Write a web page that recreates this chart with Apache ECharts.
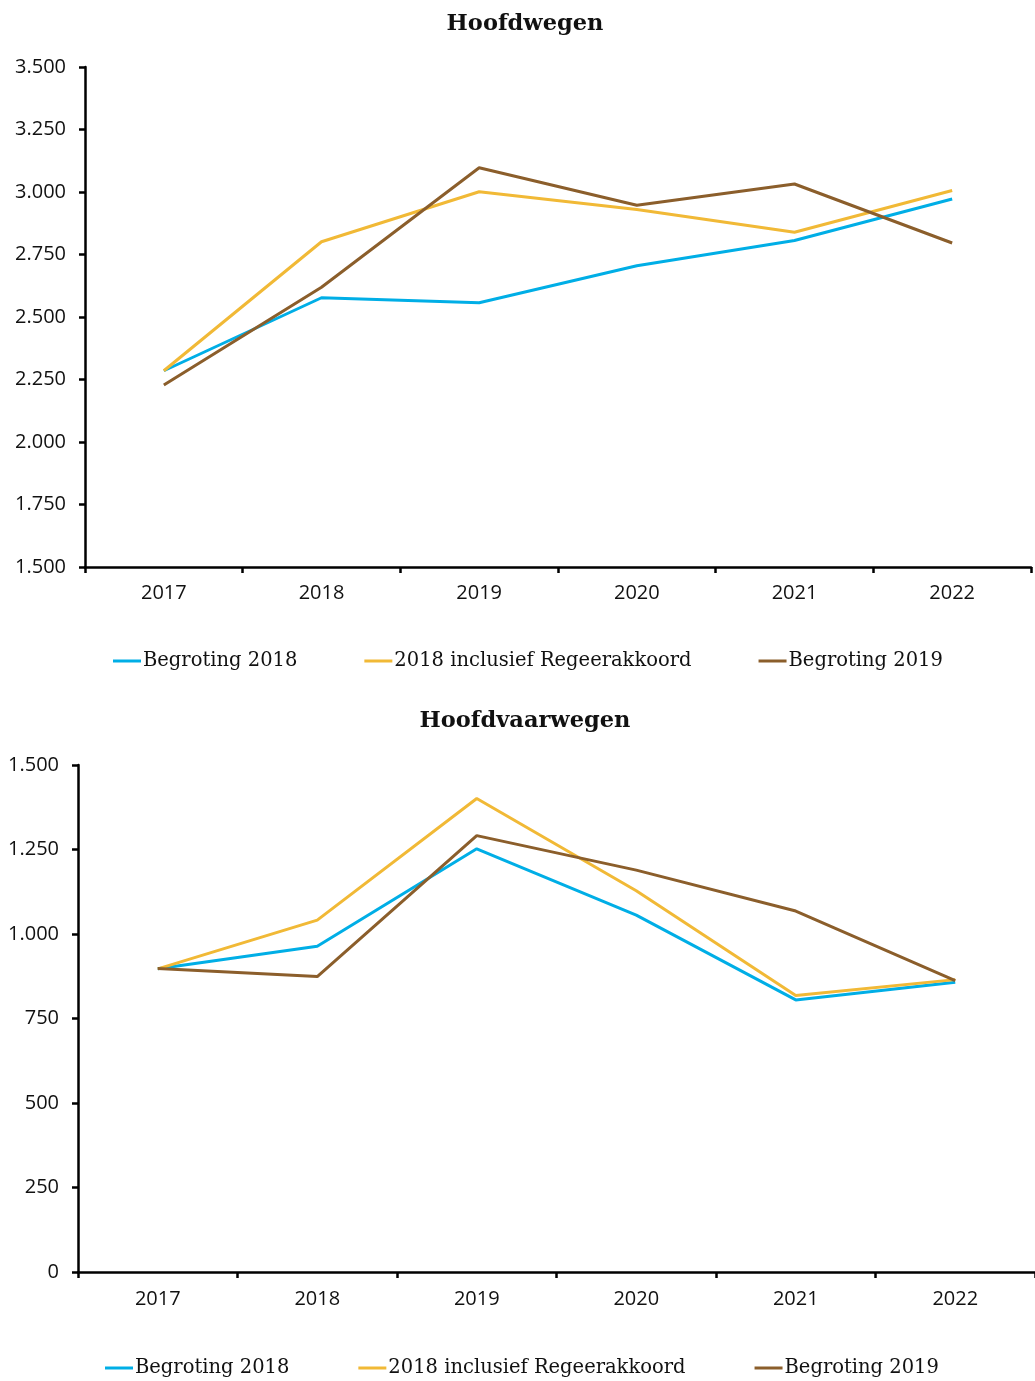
<!DOCTYPE html>
<html>
<head>
<meta charset="utf-8">
<title>Hoofdwegen en Hoofdvaarwegen</title>
<script src="https://cdn.jsdelivr.net/npm/echarts@6/dist/echarts.min.js"></script>
<style>
  html, body { margin: 0; padding: 0; background: #ffffff; }
  #chart { width: 1035px; height: 1381px; }
</style>
</head>
<body>
<div id="chart"></div>
<script>
// Jaren op de x-as
const years = ['2017', '2018', '2019', '2020', '2021', '2022'];

// Reeksnamen
const seriesNames = ['Begroting 2018', '2018 inclusief Regeerakkoord', 'Begroting 2019'];

// Hoofdwegen (mln euro)
const wegenBegroting2018 = [2285, 2577, 2557, 2705, 2806, 2972];
const wegenRegeerakkoord = [2285, 2801, 3001, 2930, 2839, 3006];
const wegenBegroting2019 = [2228, 2619, 3097, 2947, 3032, 2796];

// Hoofdvaarwegen (mln euro)
const vaarBegroting2018 = [897, 964, 1252, 1056, 805, 857];
const vaarRegeerakkoord = [897, 1041, 1401, 1128, 818, 865];
const vaarBegroting2019 = [898, 874, 1291, 1189, 1068, 862];

const colors = ['#00aee6', '#f1b936', '#8b5e2b'];

const serif = 'DejaVu Serif';
const sans = 'Open Sans';

function dutchNumber(v) {
  return String(v).replace(/\B(?=(\d{3})+(?!\d))/g, '.');
}

function makeXAxis(gridIndex, margin) {
  return {
    type: 'category',
    gridIndex: gridIndex,
    data: years,
    boundaryGap: true,
    axisLine: { lineStyle: { color: '#000', width: 2.5 } },
    axisTick: { show: true, length: 6, lineStyle: { color: '#000', width: 2.5 } },
    axisLabel: { color: '#111', fontFamily: sans, fontSize: 20, margin: margin },
    splitLine: { show: false }
  };
}

function makeYAxis(gridIndex, min, max) {
  return {
    type: 'value',
    gridIndex: gridIndex,
    min: min,
    max: max,
    interval: 250,
    axisLine: { show: true, lineStyle: { color: '#000', width: 2.5 } },
    axisTick: { show: true, length: 6, lineStyle: { color: '#000', width: 2.5 } },
    axisLabel: { color: '#111', fontFamily: sans, fontSize: 20, margin: 19, formatter: dutchNumber },
    splitLine: { show: false }
  };
}

function makeLine(name, data, idx, color) {
  return {
    type: 'line',
    name: name,
    data: data,
    xAxisIndex: idx,
    yAxisIndex: idx,
    symbol: 'none',
    smooth: false,
    lineStyle: { color: color, width: 3 },
    itemStyle: { color: color },
    emphasis: { disabled: true }
  };
}

function makeLegend(left, top, gap) {
  return {
    left: left,
    top: top,
    icon: 'rect',
    itemWidth: 28,
    itemHeight: 3,
    itemGap: gap,
    data: seriesNames,
    textStyle: { fontFamily: serif, fontSize: 19.5, color: '#111', padding: [0, 0, 0, -3] }
  };
}

const chart = echarts.init(document.getElementById('chart'), null, { renderer: 'canvas' });

chart.setOption({
  animation: false,
  backgroundColor: '#ffffff',
  title: [
    {
      text: 'Hoofdwegen',
      left: 520, top: 8, textAlign: 'center',
      textStyle: { fontFamily: serif, fontWeight: 'bold', fontSize: 22.5, color: '#111' }
    },
    {
      text: 'Hoofdvaarwegen',
      left: 520, top: 705, textAlign: 'center',
      textStyle: { fontFamily: serif, fontWeight: 'bold', fontSize: 22.5, color: '#111' }
    }
  ],
  legend: [makeLegend(108, 646, 67), makeLegend(100, 1353, 69)],
  grid: [
    { left: 85, top: 67, width: 946, height: 500, containLabel: false },
    { left: 78, top: 765, width: 960, height: 507, containLabel: false }
  ],
  xAxis: [makeXAxis(0, 16), makeXAxis(1, 17)],
  yAxis: [makeYAxis(0, 1500, 3500), makeYAxis(1, 0, 1500)],
  series: [
    makeLine(seriesNames[0], wegenBegroting2018, 0, colors[0]),
    makeLine(seriesNames[1], wegenRegeerakkoord, 0, colors[1]),
    makeLine(seriesNames[2], wegenBegroting2019, 0, colors[2]),
    makeLine(seriesNames[0], vaarBegroting2018, 1, colors[0]),
    makeLine(seriesNames[1], vaarRegeerakkoord, 1, colors[1]),
    makeLine(seriesNames[2], vaarBegroting2019, 1, colors[2])
  ]
});
</script>
</body>
</html>
